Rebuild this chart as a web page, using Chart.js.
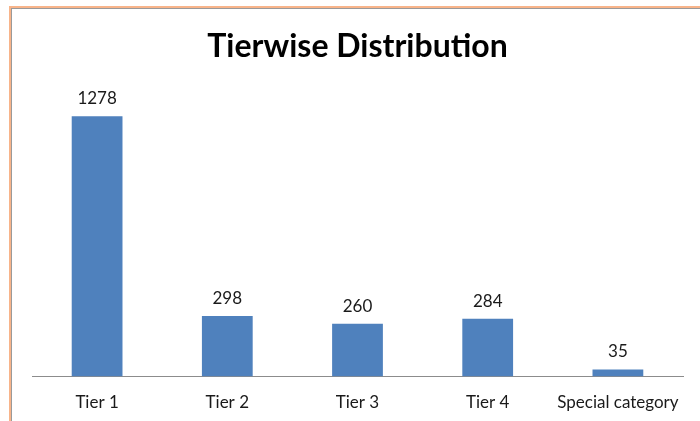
<!DOCTYPE html>
<html>
<head>
<meta charset="utf-8">
<script src="https://cdn.jsdelivr.net/npm/chart.js@4"></script>
<style>
  html, body { margin: 0; padding: 0; background: #fff; }
  #wrap { position: relative; width: 700px; height: 421px; overflow: hidden; }
  #frame {
    position: absolute; left: 9px; top: 6px; width: 720px; height: 440px;
    border-top: 2px solid #F8B48A; border-left: 2px solid #F8B48A;
    box-shadow: inset 1px 1px 0 #9a9a9a;
  }
  canvas { position: absolute; left: 0; top: 0; }
</style>
</head>
<body>
<div id="wrap">
  <div id="frame"></div>
  <canvas id="chart" width="700" height="421"></canvas>
</div>
<script>
const categories = ['Tier 1', 'Tier 2', 'Tier 3', 'Tier 4', 'Special category'];
const counts = [1278, 298, 260, 284, 35];

// draws the value above each bar, like the Excel data labels
const barLabels = {
  id: 'barLabels',
  afterDatasetsDraw(chart) {
    const ctx = chart.ctx;
    ctx.save();
    ctx.font = '17px Lato, "Open Sans", sans-serif';
    ctx.fillStyle = '#1a1a1a';
    ctx.textAlign = 'center';
    ctx.textBaseline = 'bottom';
    chart.getDatasetMeta(0).data.forEach((bar, i) => {
      ctx.fillText(counts[i], bar.x, bar.y - 9);
    });
    ctx.restore();
  }
};

new Chart(document.getElementById('chart'), {
  type: 'bar',
  data: {
    labels: categories,
    datasets: [{
      label: 'Count',
      data: counts,
      backgroundColor: '#4F81BD',
      borderWidth: 0,
      barPercentage: 0.39,
      categoryPercentage: 1
    }]
  },
  options: {
    responsive: false,
    animation: false,
    layout: { padding: { left: 32, right: 17, top: 0, bottom: -8 } },
    plugins: {
      legend: { display: false },
      tooltip: { enabled: false },
      title: {
        display: true,
        // zero-width non-joiner keeps Lato from using its "ti" ligature
        text: 'Tierwise Distribu\u200Ction',
        color: '#000',
        font: { family: 'Lato, "Open Sans", sans-serif', size: 32, weight: 'bold' },
        padding: { top: 27, bottom: 26 }
      }
    },
    scales: {
      x: {
        grid: { display: false, drawTicks: false },
        border: { display: true, color: '#8c8c8c', width: 1 },
        ticks: {
          color: '#1a1a1a',
          padding: 16,
          font: { family: 'Lato, "Open Sans", sans-serif', size: 17 }
        }
      },
      y: {
        display: false,
        min: 0,
        max: 1400
      }
    }
  },
  plugins: [barLabels]
});
</script>
</body>
</html>
